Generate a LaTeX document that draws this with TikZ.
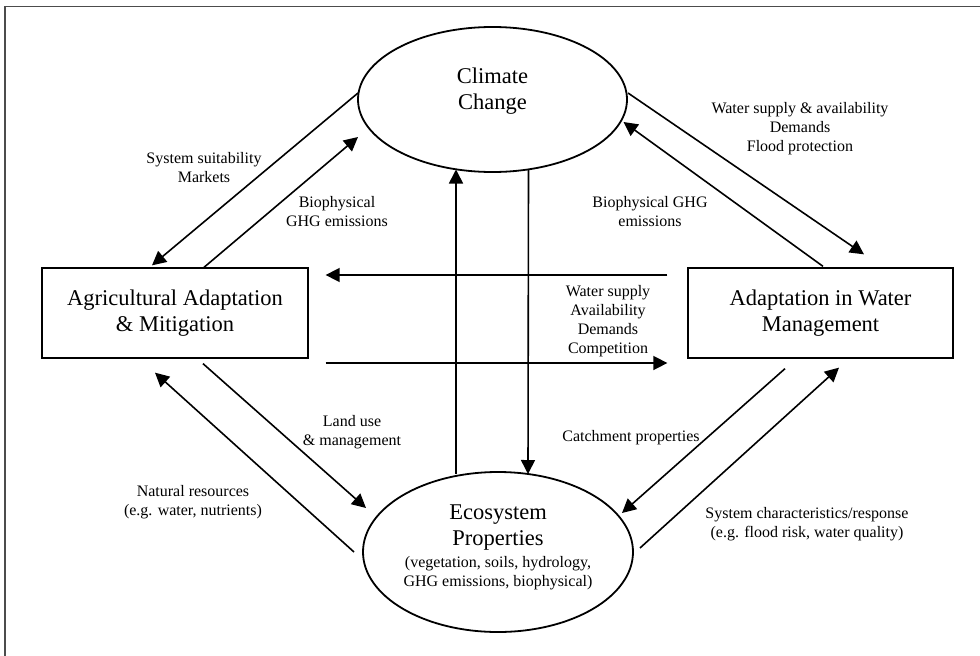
\documentclass[tikz,border=0pt]{standalone}
\usepackage{fontspec}
\setmainfont{Liberation Serif}
\usetikzlibrary{shapes.geometric,arrows.meta,calc}
\begin{document}
\begin{tikzpicture}[x=1pt,y=-1pt,
  bigtext/.style={font=\fontsize{22.5}{26}\selectfont, align=center, inner sep=0pt},
  lbl/.style={font=\fontsize{16}{19}\selectfont, align=center, inner sep=0pt},
  oval/.style={ellipse, draw, line width=1.8pt, inner sep=0pt},
  boxnode/.style={rectangle, draw, line width=1.3pt, inner sep=0pt, font=\fontsize{22.5}{26}\selectfont, align=center},
  conn/.style={line width=1.6pt, -{Triangle[length=14pt,width=14pt]}}
]
\useasboundingbox (0,0) rectangle (980,656);
\draw[line width=1.3pt, draw=black!70] (5,660) -- (5,6.5) -- (985,6.5);

% nodes
\node[oval, minimum width=269pt, minimum height=145pt] (cc) at (492.5,99.5) {};
\node[bigtext] (cctext) at (492.5,91.5) {Climate\\Change};
\node[oval, minimum width=270pt, minimum height=160pt] (eco) at (498,552) {};
\node[bigtext] (ecotext) at (498,528) {Ecosystem\\Properties};
\node[lbl] (ecosub) at (498,573) {(vegetation, soils, hydrology,\\GHG emissions, biophysical)};
\node[boxnode, minimum width=266pt, minimum height=90pt] (agri) at (175,313) {Agricultural Adaptation\\\& Mitigation};
\node[boxnode, minimum width=265pt, minimum height=90pt] (water) at (820.5,313) {Adaptation in Water\\Management};

% labels
\node[lbl] (l1) at (204,168) {System suitability\\Markets};
\node[lbl] (l2) at (337,211.5) {Biophysical\\GHG emissions};
\node[lbl] (l3) at (800,128.5) {Water supply \& availability\\Demands\\Flood protection};
\node[lbl] (l4) at (650,212) {Biophysical GHG\\emissions};
\node[lbl] (l5) at (608,321) {Water supply\\Availability\\Demands\\Competition};
\node[lbl] (l6) at (352,432.5) {Land use\\\& management};
\node[lbl] (l7) at (193,502) {Natural resources\\(e.g. water, nutrients)};
\node[lbl] (l8) at (631,438) {Catchment properties};
\node[lbl] (l9) at (807,524.5) {System characteristics/response\\(e.g. flood risk, water quality)};

% connectors
\draw[conn] ($(cc.center)+(-134.5,-6.5)$) -- ($(agri.north)+(-23,-2)$);
\draw[conn] ($(agri.north)+(29,0)$) -- ($(cc.center)+(-134.5,37.5)$);
\draw[conn] ($(eco.center)+(-42,-78)$) -- ($(cc.center)+(-36.5,70)$);
\draw[conn] ($(cc.center)+(36,70)$) -- ($(eco.center)+(30,-78)$);
\draw[conn] ($(water.west)+(-20,-38)$) -- ($(agri.east)+(17,-38)$);
\draw[conn] ($(agri.east)+(17,50)$) -- ($(water.west)+(-20,50)$);
\draw[conn] ($(cc.center)+(135.5,-6.5)$) -- ($(water.north)+(43.5,-13)$);
\draw[conn] ($(water.north)+(2.5,-1)$) -- ($(cc.center)+(131,22.5)$);
\draw[conn] ($(agri.south)+(28,5)$) -- ($(eco.center)+(-132,-44)$);
\draw[conn] ($(eco.center)+(-144,0)$) -- ($(agri.south)+(-20,14)$);
\draw[conn] ($(water.south)+(-35.5,10)$) -- ($(eco.center)+(124,-39)$);
\draw[conn] ($(eco.center)+(142,-4)$) -- ($(water.south)+(18.5,9)$);
\end{tikzpicture}
\end{document}
